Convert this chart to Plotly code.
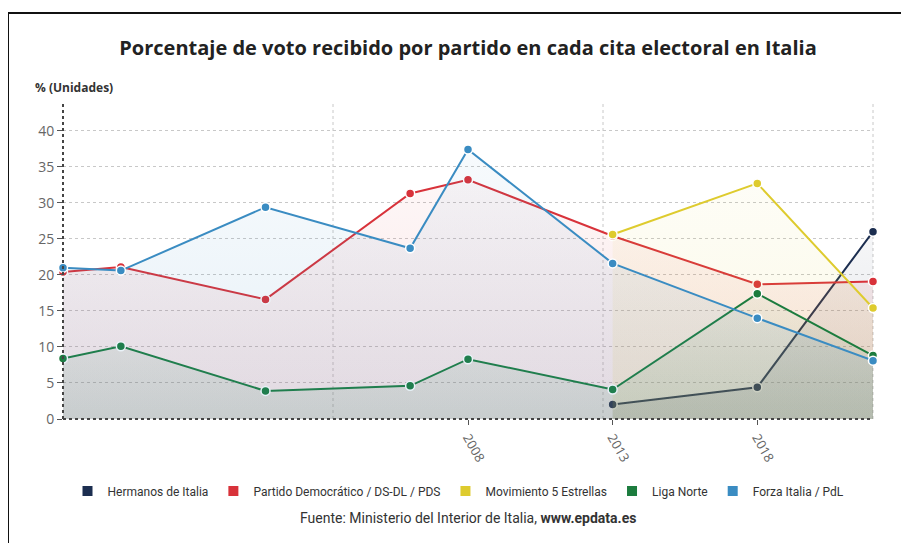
import plotly.graph_objects as go

# election years (x axis is linear in years)
years = [1994, 1996, 2001, 2006, 2008, 2013, 2018, 2022]
years_recent = [2013, 2018, 2022]

# vote share (%) per party
hermanos = [2.0, 4.4, 26.0]
pd_ds_pds = [20.4, 21.1, 16.6, 31.3, 33.2, 25.4, 18.7, 19.1]
m5s = [25.6, 32.7, 15.4]
liga = [8.4, 10.1, 3.9, 4.6, 8.3, 4.1, 17.4, 8.8]
forza = [21.0, 20.6, 29.4, 23.7, 37.4, 21.6, 14.0, 8.1]

tick_years = [2008, 2013, 2018]
y_ticks = [0, 5, 10, 15, 20, 25, 30, 35, 40]

series = [
    ("Hermanos de Italia", years_recent, hermanos, (28, 46, 80)),
    ("Partido Democrático / DS-DL / PDS", years, pd_ds_pds, (216, 50, 58)),
    ("Movimiento 5 Estrellas", years_recent, m5s, (222, 203, 46)),
    ("Liga Norte", years, liga, (28, 124, 62)),
    ("Forza Italia / PdL", years, forza, (58, 140, 194)),
]

FONT = "Open Sans, Roboto, sans-serif"
NARROW = "Roboto, sans-serif"

# the page body adds an 8px offset, so the figure is drawn 8px smaller
W, H = 901, 535


def rgba(c, a):
    return f"rgba({c[0]},{c[1]},{c[2]},{a})"


fig = go.Figure()

for name, xs, ys, col in series:
    fig.add_trace(go.Scatter(
        x=xs, y=ys, name=name, mode="lines+markers",
        line=dict(color=rgba(col, 1), width=2),
        marker=dict(size=9, color=rgba(col, 1), line=dict(color="white", width=1.5)),
        fill="tozeroy",
        fillgradient=dict(
            type="vertical", start=0, stop=max(ys),
            colorscale=[[0, rgba(col, 0.13)], [1, rgba(col, 0.04)]],
        ),
        cliponaxis=False,
        showlegend=False,
    ))

# square legend entries
for name, xs, ys, col in series:
    fig.add_trace(go.Scatter(
        x=[None], y=[None], name=name, mode="markers",
        marker=dict(symbol="square", size=10, color=rgba(col, 1)),
    ))

shapes = []
# vertical dotted grid lines
for fx in (1 / 3, 2 / 3, 1):
    shapes.append(dict(type="line", xref="x domain", yref="y domain",
                       x0=fx, x1=fx, y0=0, y1=1, layer="below",
                       line=dict(color="#c8c8c8", width=1, dash="dot")))
# dotted axis lines
shapes.append(dict(type="line", xref="x domain", yref="y domain",
                   x0=0, x1=0, y0=0, y1=1,
                   line=dict(color="#444", width=2, dash="dot")))
shapes.append(dict(type="line", xref="x domain", yref="y domain",
                   x0=0, x1=1, y0=0, y1=0,
                   line=dict(color="#444", width=2, dash="dot")))
# frame of the screenshot (top and left edge)
shapes.append(dict(type="line", xref="paper", yref="paper",
                   x0=-55 / 810, x1=1.1, y0=1 + 89 / 317, y1=1 + 89 / 317,
                   line=dict(color="#111", width=2)))
shapes.append(dict(type="line", xref="paper", yref="paper",
                   x0=-55 / 810, x1=-55 / 810, y0=-130 / 317, y1=1 + 89 / 317,
                   line=dict(color="#111", width=2)))

fig.update_layout(
    width=W, height=H,
    margin=dict(l=55, r=36, t=94, b=124, autoexpand=False),
    paper_bgcolor="white", plot_bgcolor="white",
    font=dict(family=FONT, color="#444"),
    title=dict(
        text="<b>Porcentaje de voto recibido por partido en cada cita electoral en Italia</b>",
        font=dict(family=FONT, size=20, color="#222"),
        x=0.5, xref="paper", xanchor="center",
        y=1 - 40 / H, yanchor="middle", pad=dict(t=0, b=0),
    ),
    xaxis=dict(
        range=[years[0], years[-1]], tickvals=tick_years, tickangle=60,
        showgrid=False, zeroline=False, showline=False, automargin=False,
        ticks="outside", ticklen=5, tickcolor="#555",
        tickfont=dict(family=FONT, size=13, color="#666"),
    ),
    yaxis=dict(
        range=[0, 44], tickvals=y_ticks, automargin=False,
        showgrid=True, gridcolor="#c8c8c8", griddash="dot", gridwidth=1,
        zeroline=False, showline=False,
        ticks="outside", ticklen=5, tickcolor="#555",
        tickfont=dict(family=FONT, size=14, color="#666"),
    ),
    legend=dict(
        orientation="h", xref="container", yref="container",
        x=0.5, xanchor="center", y=1 - 483 / H, yanchor="middle",
        font=dict(family=NARROW, size=12, color="#333"),
        itemwidth=30, tracegroupgap=0,
    ),
    shapes=shapes,
    annotations=[
        dict(text="<b>% (Unidades)</b>", xref="paper", yref="paper",
             x=-30 / 810, y=1 + 15 / 317, xanchor="left", yanchor="middle",
             showarrow=False, font=dict(family=FONT, size=12, color="#333")),
        dict(text="Fuente: Ministerio del Interior de Italia, <b>www.epdata.es</b>",
             xref="paper", yref="paper", x=0.5, y=-99 / 317,
             xanchor="center", yanchor="middle", showarrow=False,
             font=dict(family=NARROW, size=14, color="#333")),
    ],
)

fig.write_html("out.html")
